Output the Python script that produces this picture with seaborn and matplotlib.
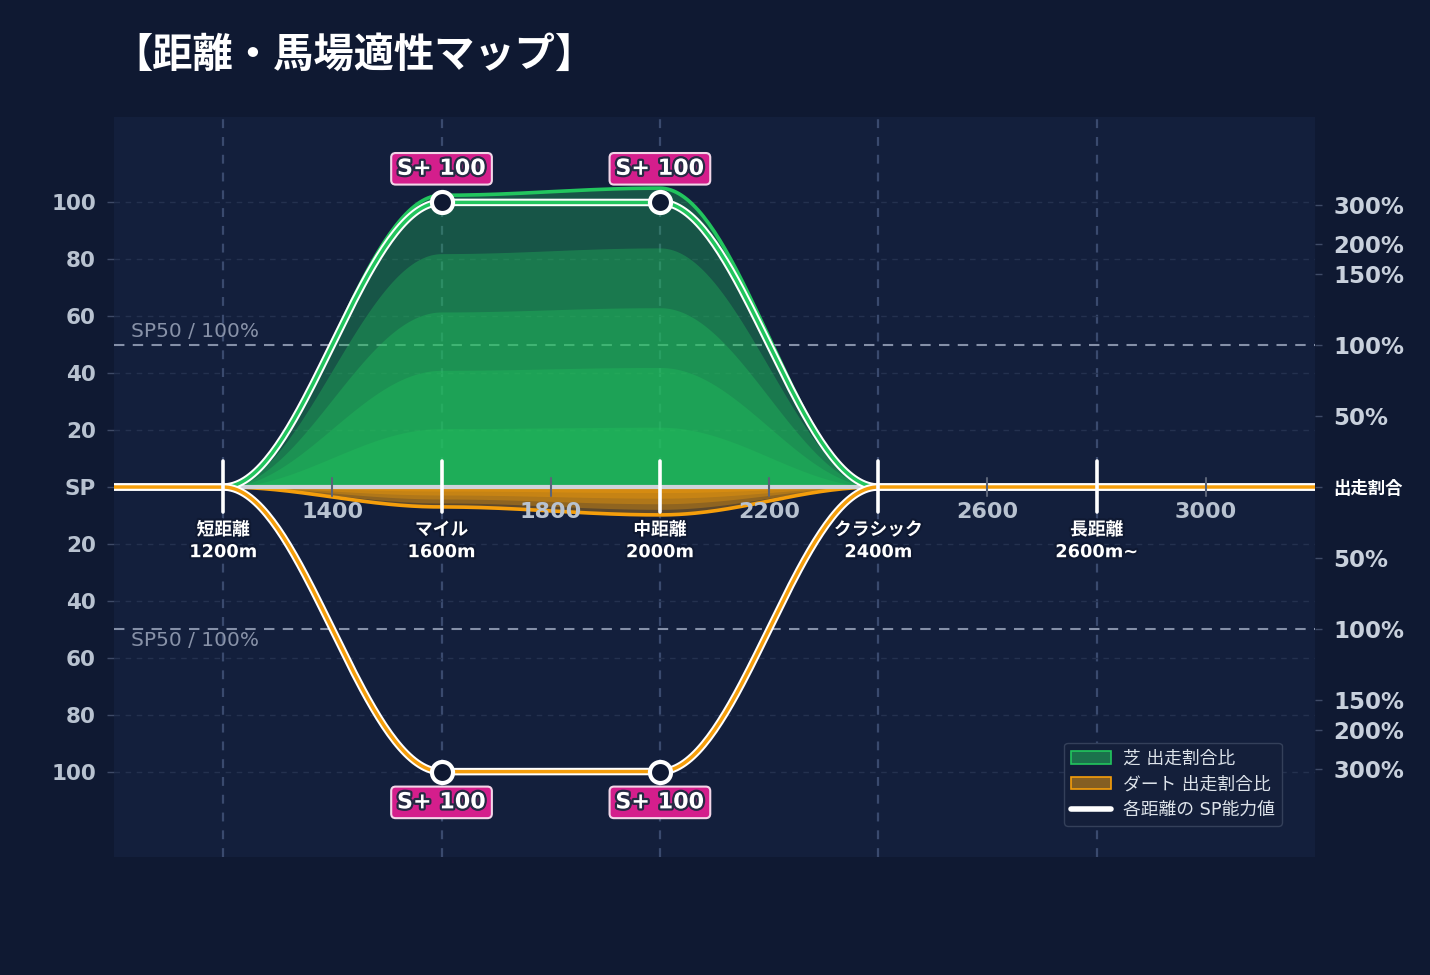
import numpy as np
import seaborn as sns
import matplotlib.pyplot as plt
import matplotlib.patheffects as pe
from matplotlib.patches import Patch
from matplotlib.lines import Line2D

# Data
distances = [1200, 1600, 2000, 2400, 2800]
cat_names = ["短距離", "マイル", "中距離", "クラシック", "長距離"]
cat_dists = ["1200m", "1600m", "2000m", "2400m", "2600m~"]
turf_sp = [0, 100, 100, 0, 0]
dirt_sp = [0, 100, 100, 0, 0]
grades = ["", "S+", "S+", "", ""]
turf_share = [0, 102.5, 105, 0, 0]   # plot units (right axis scale)
dirt_share = [0, 7, 9.8, 0, 0]
minor_dists = [1400, 1800, 2200, 2600, 3000]
sp_ticks = [100, 80, 60, 40, 20, 0, -20, -40, -60, -80, -100]
sp_labels = ["100", "80", "60", "40", "20", "SP", "20", "40", "60", "80", "100"]
pct_pos = [99, 85.5, 75, 50, 25, 0, -25, -50, -75, -85.5, -99]
pct_labels = ["300%", "200%", "150%", "100%", "50%", "出走割合",
              "50%", "100%", "150%", "200%", "300%"]

BG = "#0f1932"
AX_BG = "#131f3c"
GREEN = "#22c55e"
ORANGE = "#f59e0b"
MAGENTA = "#d41e8c"
XMIN, XMAX = 1000, 3200


def smooth(xs, ys, n=80):
    # cosine easing between neighbouring points (flat at every node)
    px, py = [], []
    for i in range(len(xs) - 1):
        t = np.linspace(0, 1, n, endpoint=False)
        w = (1 - np.cos(np.pi * t)) / 2
        px.append(xs[i] + (xs[i + 1] - xs[i]) * t)
        py.append(ys[i] + (ys[i + 1] - ys[i]) * w)
    px.append([xs[-1]])
    py.append([ys[-1]])
    return np.concatenate(px), np.concatenate(py)


sns.set_theme(style="dark")
plt.rcParams["font.family"] = ["DejaVu Sans", "Noto Sans CJK JP"]

fig = plt.figure(figsize=(14.3, 9.75), dpi=100, facecolor=BG)
ax = fig.add_axes([0.0797, 0.121, 0.8399, 0.759])
ax.set_facecolor(AX_BG)
ax.set_xlim(XMIN, XMAX)
ax.set_ylim(-130, 130)
for s in ax.spines.values():
    s.set_visible(False)

# grid
for d in distances:
    ax.axvline(d, color="#3a4a6e", lw=1.6, ls=(0, (4, 4)), zorder=1)
for v in sp_ticks:
    if v != 0:
        ax.axhline(v, color="#24314f", lw=1, ls=(0, (4, 4)), zorder=1)
for v in [50, -50]:
    ax.axhline(v, color="#8590a8", lw=1.5, ls=(0, (5, 4)), zorder=1.5)
ax.text(1031, 54.5, "SP50 / 100%", color="#8892a8", fontsize=14.5, va="center")
ax.text(1031, -54, "SP50 / 100%", color="#8892a8", fontsize=14.5, va="center")

# share fills (layered)
ext = [XMIN] + distances + [XMAX]
tx, ty = smooth(ext, [0] + turf_share + [0])
dx, dy = smooth(ext, [0] + dirt_share + [0])
for k in [0.2, 0.4, 0.6, 0.8, 1.0]:
    ax.fill_between(tx, 0, ty * k, color=GREEN, alpha=0.33, lw=0, zorder=2)
    ax.fill_between(dx, 0, -dy * k, color=ORANGE, alpha=0.33, lw=0, zorder=2)
sns.lineplot(x=tx, y=ty, ax=ax, color=GREEN, lw=2.6, zorder=3)
sns.lineplot(x=dx, y=-dy, ax=ax, color=ORANGE, lw=2.6, zorder=3)

ax.axhline(0, color="#cfd3da", lw=3, zorder=3.2)

# SP lines
sx, sy = smooth(ext, [turf_sp[0]] + turf_sp + [turf_sp[-1]])
bx, by = smooth(ext, [dirt_sp[0]] + dirt_sp + [dirt_sp[-1]])
sns.lineplot(x=sx, y=sy, ax=ax, color="white", lw=5.4, zorder=4)
sns.lineplot(x=sx, y=sy, ax=ax, color=GREEN, lw=2.5, zorder=4.1)
sns.lineplot(x=bx, y=-by, ax=ax, color="white", lw=5.4, zorder=4.2)
sns.lineplot(x=bx, y=-by, ax=ax, color=ORANGE, lw=2.5, zorder=4.3)

# distance markers
for d in minor_dists:
    ax.plot([d, d], [3.2, -3.2], color="#5b6478", lw=1.5, zorder=4.5)
    ax.text(d, -8.8, str(d), color="#b8c2d0", fontsize=16, fontweight="bold",
            ha="center", va="center", zorder=5)
stroke = [pe.withStroke(linewidth=3, foreground=BG)]
for d, n, m in zip(distances, cat_names, cat_dists):
    ax.plot([d, d], [9, -8.8], color="white", lw=2.6, zorder=5)
    ax.text(d, -15.1, n, color="white", fontsize=12.8, fontweight="bold",
            ha="center", va="center", zorder=6, path_effects=stroke)
    ax.text(d, -22.9, m, color="white", fontsize=12.8, fontweight="bold",
            ha="center", va="center", zorder=6, path_effects=stroke)

# points + badges
for d, g, t, b in zip(distances, grades, turf_sp, dirt_sp):
    if not g:
        continue
    for val, off in [(t, 11.8), (-b, -10.8)]:
        sns.scatterplot(x=[d], y=[val], ax=ax, s=230, color=BG,
                        edgecolor="white", linewidth=3, zorder=7)
        ax.text(d, val + off, f"{g} {abs(val)}", color="white", fontsize=16,
                fontweight="bold", ha="center", va="center", zorder=8,
                path_effects=[pe.withStroke(linewidth=3.2, foreground="#262a44")],
                bbox=dict(boxstyle="round,pad=0.26,rounding_size=0.2",
                          fc=MAGENTA, ec="#f2d6e8", lw=1.5))

# left axis
ax.set_xticks([])
ax.set_yticks(sp_ticks)
ax.set_yticklabels(sp_labels)
ax.tick_params(axis="y", left=True, length=5, width=1, color="#3e4a66",
               pad=8, labelsize=15.5, labelcolor="#b8c2d0")
for lab in ax.get_yticklabels():
    lab.set_fontweight("bold")
ax.set_xlabel("")
ax.set_ylabel("")

# right axis
ax2 = ax.twinx()
ax2.set_ylim(-130, 130)
for s in ax2.spines.values():
    s.set_visible(False)
ax2.set_yticks(pct_pos)
ax2.set_yticklabels(pct_labels)
ax2.tick_params(axis="y", right=True, length=5, width=1, color="#3e4a66",
                pad=8, labelsize=16.5, labelcolor="#c8d0dc")
for lab in ax2.get_yticklabels():
    lab.set_fontweight("bold")
    if lab.get_text() == "出走割合":
        lab.set_fontsize(12.5)
        lab.set_color("white")
ax2.grid(False)

# legend
handles = [Patch(facecolor=(0.133, 0.773, 0.369, 0.5), edgecolor=GREEN, lw=1.2),
           Patch(facecolor=(0.961, 0.62, 0.043, 0.5), edgecolor=ORANGE, lw=1.2),
           Line2D([0], [0], color="white", lw=4)]
leg = ax.legend(handles, ["芝 出走割合比", "ダート 出走割合比", "各距離の SP能力値"],
                loc="lower right", bbox_to_anchor=(0.9725, 0.042), borderaxespad=0,
                fontsize=12.8, facecolor="#141f3a", edgecolor="#34405a",
                framealpha=1, labelcolor="#dde3ea", handlelength=2.2,
                handletextpad=0.7, labelspacing=0.42)
leg.set_zorder(10)

fig.text(0.0783, 0.9436, "【距離・馬場適性マップ】", color="white", fontsize=29,
         fontweight="bold", va="center", ha="left",
         family=["Noto Sans CJK JP", "DejaVu Sans"])

fig.savefig("out.png", dpi=100, facecolor=BG)
